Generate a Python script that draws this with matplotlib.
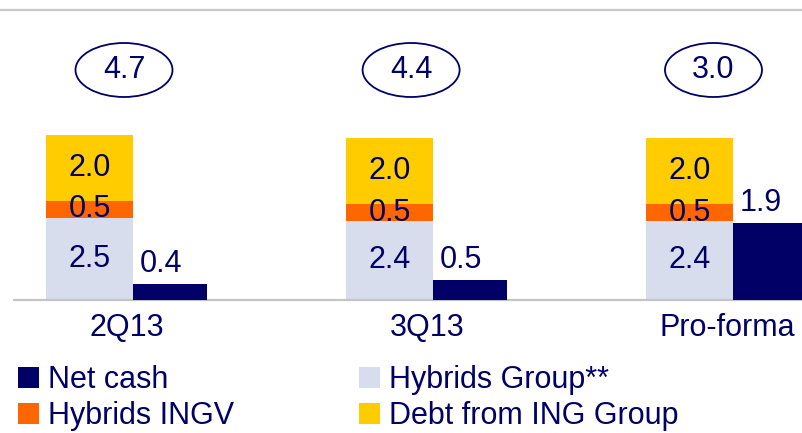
import numpy as np
import matplotlib
matplotlib.use('Agg')
import matplotlib.pyplot as plt
import matplotlib.transforms as mtransforms
from matplotlib.patches import Ellipse
from matplotlib.lines import Line2D

# Dati (miliardi EUR)
categories = ['2Q13', '3Q13', 'Pro-forma']
hybrids_group = [2.5, 2.4, 2.4]
hybrids_ingv = [0.5, 0.5, 0.5]
debt_ing_group = [2.0, 2.0, 2.0]
net_cash = [0.4, 0.5, 1.9]
ratio_labels = ['4.7', '4.4', '3.0']
legend_labels = ['Net cash', 'Hybrids INGV', 'Hybrids Group**', 'Debt from ING Group']

# Colori
navy = '#000066'
c_group = '#D7DDED'
c_ingv = '#FF6600'
c_debt = '#FFCC00'

plt.rcParams['font.family'] = ['Liberation Sans', 'DejaVu Sans']
fs = 22

fig = plt.figure(figsize=(8.02, 4.33), dpi=100)
ax = fig.add_axes([14 / 802, 133 / 433, 788 / 802, 290 / 433])

x = np.arange(len(categories))
stack_w = 0.29
net_w = 0.245

# Barre impilate
b1 = ax.bar(x, hybrids_group, stack_w, color=c_group)
b2 = ax.bar(x, hybrids_ingv, stack_w, bottom=hybrids_group, color=c_ingv)
bottom3 = np.array(hybrids_group) + np.array(hybrids_ingv)
b3 = ax.bar(x, debt_ing_group, stack_w, bottom=bottom3, color=c_debt)
ax.set_xlim((14 - 89.5) / 300, (802 - 89.5) / 300)
ax.set_ylim(0, 290 / 33)

for bars in (b1, b2, b3):
    ax.bar_label(bars, fmt='%.1f', label_type='center', fontsize=fs, color=navy)

# Net cash su asse secondario (scala diversa nell'originale)
ax2 = ax.twinx()
x_net = x + stack_w / 2 + net_w / 2
b4 = ax2.bar(x_net, net_cash, net_w, color=navy)
ax2.set_ylim(0, 290 / 40.5)
for xi, v in zip(x_net, net_cash):
    ax2.annotate(f'{v:.1f}', xy=(xi, v), xytext=(-9, 5), textcoords='offset pixels',
                 ha='center', va='bottom', fontsize=fs, color=navy)

# Assi
for a in (ax, ax2):
    for s in ('top', 'left', 'right'):
        a.spines[s].set_visible(False)
    a.set_yticks([])
ax2.spines['bottom'].set_visible(False)
ax.spines['bottom'].set_color('#C4C4C4')
ax.spines['bottom'].set_linewidth(1.6)
ax.set_xticks(x + 0.125)
ax.set_xticklabels(categories, fontsize=fs, color=navy)
ax.tick_params(axis='x', length=0, pad=9.5)

# Ellissi con i totali
ellipse_offsets = [0.115, 0.072, 0.08]
trans = mtransforms.blended_transform_factory(ax.transData, ax.transAxes)
for xi, off, lab in zip(x, ellipse_offsets, ratio_labels):
    cy = (300 - 70) / 290
    ax.add_patch(Ellipse((xi + off, cy), 97 / 300, 54 / 290, transform=trans,
                         fill=False, ec=navy, lw=1.3))
    ax.text(xi + off, cy, lab, transform=trans, ha='center', va='center',
            fontsize=fs, color=navy)

# Linea grigia in alto
fig.add_artist(Line2D([0, 1], [1 - 10 / 433] * 2, transform=fig.transFigure,
                      color='#C8C8C8', lw=1.6))

# Legenda
fig.legend(handles=[b4, b2, b1, b3], labels=legend_labels, ncol=2,
           loc='upper left', bbox_to_anchor=(18 / 802, 1 - 365 / 433),
           frameon=False, borderpad=0, borderaxespad=0, fontsize=fs,
           labelcolor=navy, handlelength=0.68, handleheight=0.68,
           handletextpad=0.3, columnspacing=4.1, labelspacing=0.2)

plt.savefig('out.png', dpi=100)
